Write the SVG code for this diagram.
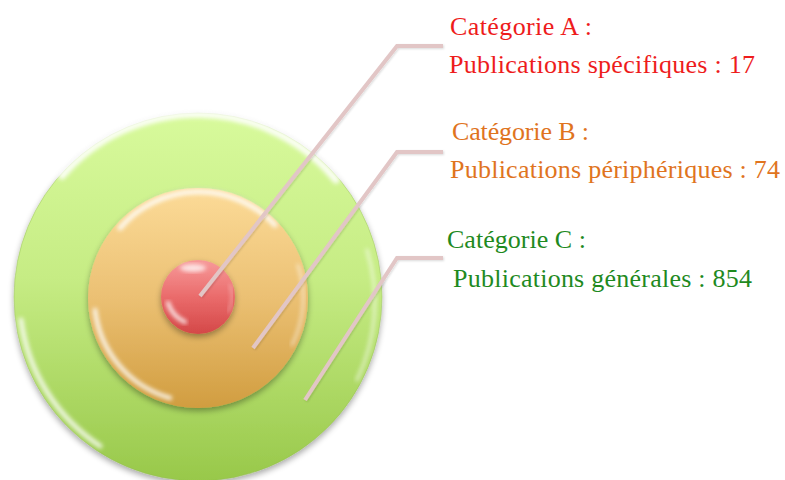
<svg xmlns="http://www.w3.org/2000/svg" width="785" height="480" viewBox="0 0 785 480">
<style>
.lbl{font-family:"Liberation Serif","Times New Roman",serif;font-size:26px}
.a{fill:#ee1c1c}
.b{fill:#e0741e}
.c{fill:#1f8a1f}
.lead{fill:none;stroke:#e2c6c6;stroke-width:4;stroke-linecap:butt;stroke-linejoin:miter}
.hl{fill:none;stroke:#ffffff;stroke-linecap:round}
</style>
<defs>
<linearGradient id="gG" x1="0" y1="0" x2="0" y2="1">
<stop offset="0" stop-color="#d8fa9c"/>
<stop offset="0.45" stop-color="#c6ec84"/>
<stop offset="1" stop-color="#98c84a"/>
</linearGradient>
<linearGradient id="gO" x1="0" y1="0" x2="0" y2="1">
<stop offset="0" stop-color="#fcdb98"/>
<stop offset="0.5" stop-color="#ebc073"/>
<stop offset="1" stop-color="#d19d40"/>
</linearGradient>
<linearGradient id="gR" x1="0" y1="0" x2="0" y2="1">
<stop offset="0" stop-color="#f79a9a"/>
<stop offset="0.5" stop-color="#ea6b6b"/>
<stop offset="1" stop-color="#d44848"/>
</linearGradient>
<filter id="sh" x="-20%" y="-20%" width="140%" height="140%">
<feGaussianBlur in="SourceAlpha" stdDeviation="3"/>
<feOffset dx="0" dy="3" result="b"/>
<feComponentTransfer><feFuncA type="linear" slope="0.35"/></feComponentTransfer>
<feMerge><feMergeNode/><feMergeNode in="SourceGraphic"/></feMerge>
</filter>
<filter id="bl" x="-20%" y="-20%" width="140%" height="140%">
<feGaussianBlur stdDeviation="2"/>
</filter>
<filter id="lsh" x="-10%" y="-10%" width="120%" height="120%">
<feGaussianBlur in="SourceAlpha" stdDeviation="1"/>
<feOffset dx="1" dy="1"/>
<feComponentTransfer><feFuncA type="linear" slope="0.15"/></feComponentTransfer>
<feMerge><feMergeNode/><feMergeNode in="SourceGraphic"/></feMerge>
</filter>
</defs>
<rect width="785" height="480" fill="#ffffff"/>
<g id="circleC">
<circle cx="198" cy="297" r="184" fill="url(#gG)" stroke="#8fb84a" stroke-opacity="0.4" stroke-width="1" filter="url(#sh)"/>
<path class="hl" d="M 62 176 A 179 179 0 0 1 336 180" stroke-width="7" opacity="0.9" filter="url(#bl)"/>
<path class="hl" d="M 21 320 A 179 179 0 0 0 100 446" stroke-width="5" opacity="0.8" filter="url(#bl)"/>
<path class="hl" d="M 367 250 A 178 178 0 0 1 357 380" stroke-width="3" opacity="0.6" filter="url(#bl)"/>
</g>
<g id="circleB">
<circle cx="198" cy="298" r="110" fill="url(#gO)" filter="url(#sh)"/>
<path class="hl" d="M 120 228 A 104 104 0 0 1 275 225" stroke-width="5" opacity="0.85" filter="url(#bl)"/>
<path class="hl" d="M 95 310 A 104 104 0 0 0 170 398" stroke-width="4.5" opacity="0.85" filter="url(#bl)"/>
<path class="hl" d="M 298 265 A 104 104 0 0 1 292 345" stroke-width="2.5" opacity="0.6" filter="url(#bl)"/>
</g>
<g id="circleA">
<circle cx="198" cy="297" r="37" fill="url(#gR)" filter="url(#sh)"/>
<ellipse cx="193" cy="268" rx="13" ry="4" fill="#ffffff" opacity="0.75" filter="url(#bl)"/>
<path class="hl" d="M 168 303 A 31 31 0 0 0 185 322" stroke-width="4" opacity="0.9" filter="url(#bl)"/>
<path class="hl" d="M 230 285 A 33 33 0 0 1 228 312" stroke-width="1.5" opacity="0.6" filter="url(#bl)"/>
</g>
<g id="connectors" filter="url(#lsh)">
<polyline class="lead" points="200,296 397,46 443,46"/>
<polyline class="lead" points="253,348 397,152 443,152"/>
<polyline class="lead" points="305,400 397,258 443,258"/>
</g>
<g id="labelA">
<text class="lbl a" x="450" y="35" textLength="142" lengthAdjust="spacing">Catégorie A :</text>
<text class="lbl a" x="449" y="73" textLength="306" lengthAdjust="spacing">Publications spécifiques : 17</text>
</g>
<g id="labelB">
<text class="lbl b" x="452" y="140" textLength="137" lengthAdjust="spacing">Catégorie B :</text>
<text class="lbl b" x="450" y="178" textLength="330" lengthAdjust="spacing">Publications périphériques : 74</text>
</g>
<g id="labelC">
<text class="lbl c" x="447" y="248" textLength="139" lengthAdjust="spacing">Catégorie C :</text>
<text class="lbl c" x="453" y="287" textLength="299" lengthAdjust="spacing">Publications générales : 854</text>
</g>
</svg>
